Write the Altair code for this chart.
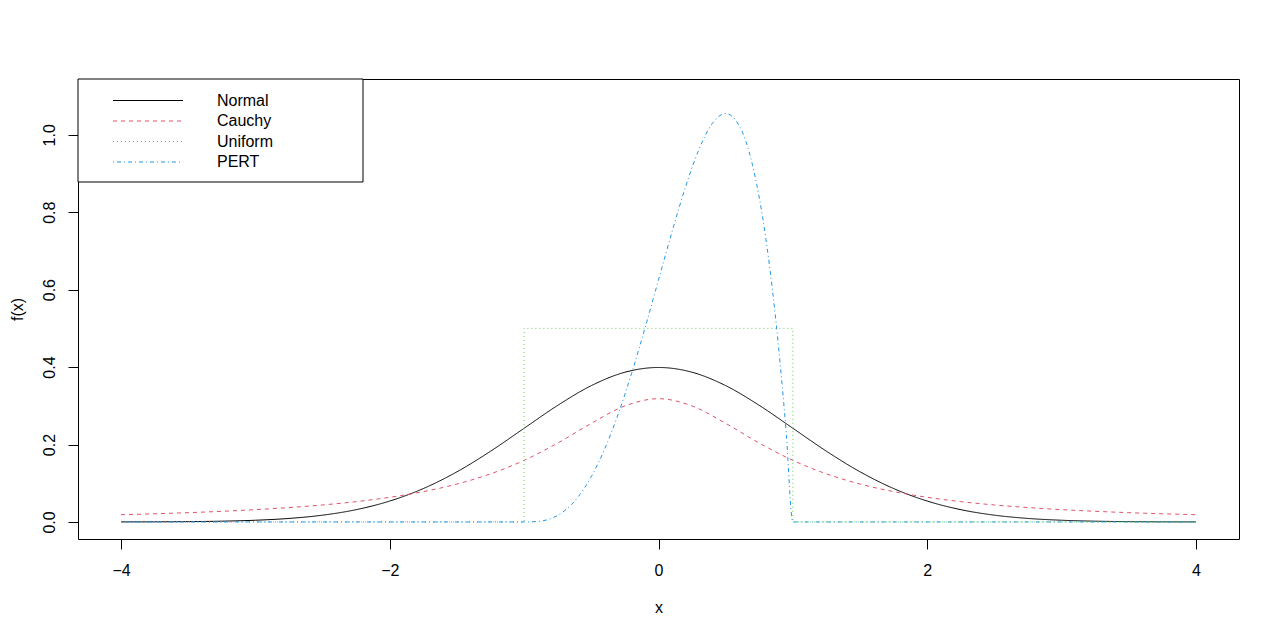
import altair as alt
import pandas as pd

# ---- data ----
series_names = ["Normal", "Cauchy", "Uniform", "PERT"]
series_colors = ["#000000", "#DF536B", "#61D04F", "#2297E6"]
series_dashes = [[1, 0], [4, 4], [1, 3], [1, 3, 4, 3]]

grid_x = [-4.0, -3.75, -3.5, -3.25, -3.0, -2.75, -2.5, -2.25, -2.0, -1.75, -1.5,
          -1.25, -1.0, -0.75, -0.5, -0.25, 0.0, 0.25, 0.5, 0.75, 1.0, 1.25, 1.5,
          1.75, 2.0, 2.25, 2.5, 2.75, 3.0, 3.25, 3.5, 3.75, 4.0]
normal_y = [0.000134, 0.000353, 0.000873, 0.002029, 0.004432, 0.009094, 0.017528,
            0.031740, 0.053991, 0.086277, 0.129518, 0.182649, 0.241971, 0.301137,
            0.352065, 0.386668, 0.398942, 0.386668, 0.352065, 0.301137, 0.241971,
            0.182649, 0.129518, 0.086277, 0.053991, 0.031740, 0.017528, 0.009094,
            0.004432, 0.002029, 0.000873, 0.000353, 0.000134]
cauchy_y = [0.018724, 0.021133, 0.024023, 0.027530, 0.031831, 0.037175, 0.043905,
            0.052505, 0.063662, 0.078353, 0.097942, 0.124218, 0.159155, 0.203718,
            0.254648, 0.299585, 0.318310, 0.299585, 0.254648, 0.203718, 0.159155,
            0.124218, 0.097942, 0.078353, 0.063662, 0.052505, 0.043905, 0.037175,
            0.031831, 0.027530, 0.024023, 0.021133, 0.018724]

uniform_x = [-4.0, -1.0, -1.0, 1.0, 1.0, 4.0]
uniform_y = [0.0, 0.0, 0.5, 0.5, 0.0, 0.0]

pert_x = [-4.0, -1.0, -0.9, -0.8, -0.7, -0.6, -0.5, -0.4, -0.3, -0.2, -0.1, 0.0,
          0.1, 0.2, 0.3, 0.4, 0.5, 0.6, 0.7, 0.8, 0.85, 0.9, 0.95, 1.0, 4.0]
pert_y = [0.0, 0.0, 0.00119, 0.0090, 0.02869, 0.0640, 0.1172, 0.1890, 0.2787,
          0.3840, 0.5012, 0.6250, 0.7487, 0.8640, 0.9612, 1.0290, 1.0547, 1.0240,
          0.9212, 0.7290, 0.5936, 0.4287, 0.2317, 0.0, 0.0]

x_ticks = [-4, -2, 0, 2, 4]
y_ticks = [0.0, 0.2, 0.4, 0.6, 0.8, 1.0]

FONT = "Liberation Sans"
FS = 16
W, H = 1161, 460

series_data = {
    "Normal": (grid_x, normal_y, "monotone"),
    "Cauchy": (grid_x, cauchy_y, "monotone"),
    "Uniform": (uniform_x, uniform_y, "linear"),
    "PERT": (pert_x, pert_y, "monotone"),
}

x_scale = alt.Scale(domain=[-4.32, 4.32], nice=False, zero=False)
y_scale = alt.Scale(domain=[-0.044, 1.144], nice=False, zero=False)

x_axis = alt.Axis(values=x_ticks, format="d", domain=False, grid=False,
                  tickSize=10, tickColor="black", tickWidth=1,
                  labelFont=FONT, labelFontSize=FS, labelColor="black",
                  labelPadding=13, labelFlush=False,
                  title="x", titleFont=FONT, titleFontSize=FS,
                  titleFontWeight="normal", titleColor="black",
                  titleX=W / 2, titleY=68, titleAlign="center",
                  titleBaseline="middle")
y_axis = alt.Axis(values=y_ticks, format=".1f", domain=False, grid=False,
                  tickSize=10, tickColor="black", tickWidth=1,
                  labelFont=FONT, labelFontSize=FS, labelColor="black",
                  labelAngle=270, labelAlign="center", labelBaseline="alphabetic",
                  labelPadding=14, labelFlush=False,
                  title="f(x)", titleFont=FONT, titleFontSize=FS,
                  titleFontWeight="normal", titleColor="black",
                  titleAngle=270, titleX=-61, titleY=H / 2, titleAlign="center",
                  titleBaseline="middle")

layers = []
for i, name in enumerate(series_names):
    xs, ys, interp = series_data[name]
    df = pd.DataFrame({"x": xs, "y": ys, "idx": list(range(len(xs)))})
    layer = alt.Chart(df).mark_line(
        color=series_colors[i], strokeDash=series_dashes[i], strokeWidth=1,
        interpolate=interp
    ).encode(
        x=alt.X("x:Q", scale=x_scale, axis=x_axis),
        y=alt.Y("y:Q", scale=y_scale, axis=y_axis),
        order=alt.Order("idx:Q"),
    )
    layers.append(layer)

# legend box (top-left corner of plot)
legend_box = alt.Chart(pd.DataFrame({"label": ["box"]})).mark_rect(
    fill="white", stroke="black", strokeWidth=1
).encode(x=alt.value(0), x2=alt.value(285), y=alt.value(0), y2=alt.value(103))
layers.append(legend_box)

for i, name in enumerate(series_names):
    ldf = pd.DataFrame({"label": [name]})
    ypos = 21.5 + i * 20.5
    layers.append(
        alt.Chart(ldf).mark_rule(
            color=series_colors[i], strokeDash=series_dashes[i], strokeWidth=1
        ).encode(x=alt.value(35), x2=alt.value(105), y=alt.value(ypos))
    )
    layers.append(
        alt.Chart(ldf).mark_text(
            align="left", baseline="middle", font=FONT, fontSize=FS, color="black"
        ).encode(x=alt.value(139), y=alt.value(ypos), text="label:N")
    )

chart = alt.layer(*layers).properties(
    width=W, height=H,
    autosize=alt.AutoSizeParams(type="none"),
    padding={"left": 70, "top": 71, "right": 33, "bottom": 90},
    background="white",
).configure_view(stroke="black", strokeWidth=1)

chart.save("out.html", embed_options={"renderer": "svg", "actions": False})
